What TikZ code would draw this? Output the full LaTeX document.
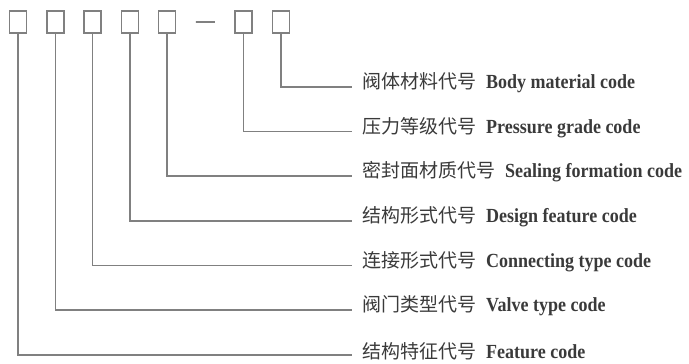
\documentclass[tikz,border=0pt]{standalone}
\usepackage{fontspec}
\setmainfont{Liberation Serif}
\newfontfamily\engfont[FakeStretch=0.9]{Liberation Serif Bold}
\newfontfamily\cjk{Noto Sans CJK SC}
\usetikzlibrary{positioning}
\definecolor{linegray}{HTML}{808080}
\definecolor{textgray}{HTML}{3A3A3A}
\newcommand{\codetext}[2]{{\cjk #1}\hspace{10pt}{\engfont\fontsize{20}{22}\selectfont #2}}

\begin{document}
\begin{tikzpicture}[x=1pt, y=1pt, node distance=18.75pt]
	
	\tikzstyle{box} = [draw=linegray, line width=1.5pt, minimum width=17pt, minimum height=22pt, inner sep=0pt]
	\tikzstyle{bar} = [draw=linegray, line width=1.5pt, minimum width=19pt, minimum height=0pt, inner sep=0pt]
	\tikzstyle{code} = [anchor=west, inner xsep=10pt, inner ysep=0pt, text=textgray, font=\fontsize{19}{22}\selectfont]
	\tikzstyle{line} = [draw=linegray, line width=1.5pt]
	
	\useasboundingbox (0,0) rectangle (689,364);
	
	% Kennzeichen: fuenf Stellen, Strich, zwei Stellen
	\node [box] (featbox) at (18,342) {};
	\node [box, right = of featbox] (valvebox) {};
	\node [box, right = of valvebox] (connbox) {};
	\node [box, right = of connbox] (desbox) {};
	\node [box, right = of desbox] (sealbox) {};
	\node [bar, right = of sealbox] (dash) {};
	\node [box, right = of dash] (presbox) {};
	\node [box, right = of presbox] (matbox) {};
	
	% Enden der Fuehrungslinien
	\coordinate (matend) at (352,277);
	\coordinate (presend) at (352,232.5);
	\coordinate (sealend) at (352,188);
	\coordinate (desend) at (352,143);
	\coordinate (connend) at (352,98.5);
	\coordinate (valveend) at (352,54);
	\coordinate (featend) at (352,9);
	
	\node [code] (mat) at ([yshift=4pt]matend) {\codetext{阀体材料代号}{Body material code}};
	\node [code] (pres) at ([yshift=4pt]presend) {\codetext{压力等级代号}{Pressure grade code}};
	\node [code] (seal) at ([yshift=4pt]sealend) {\codetext{密封面材质代号}{Sealing formation code}};
	\node [code] (des) at ([yshift=4pt]desend) {\codetext{结构形式代号}{Design feature code}};
	\node [code] (conn) at ([yshift=4pt]connend) {\codetext{连接形式代号}{Connecting type code}};
	\node [code] (valve) at ([yshift=4pt]valveend) {\codetext{阀门类型代号}{Valve type code}};
	\node [code] (feat) at ([yshift=4pt]featend) {\codetext{结构特征代号}{Feature code}};
	
	\draw [line] (matbox.south) |- (matend);
	\draw [line] (presbox.south) |- (presend);
	\draw [line] (sealbox.south) |- (sealend);
	\draw [line] (desbox.south) |- (desend);
	\draw [line] (connbox.south) |- (connend);
	\draw [line] (valvebox.south) |- (valveend);
	\draw [line] (featbox.south) |- (featend);
	
\end{tikzpicture}
\end{document}
